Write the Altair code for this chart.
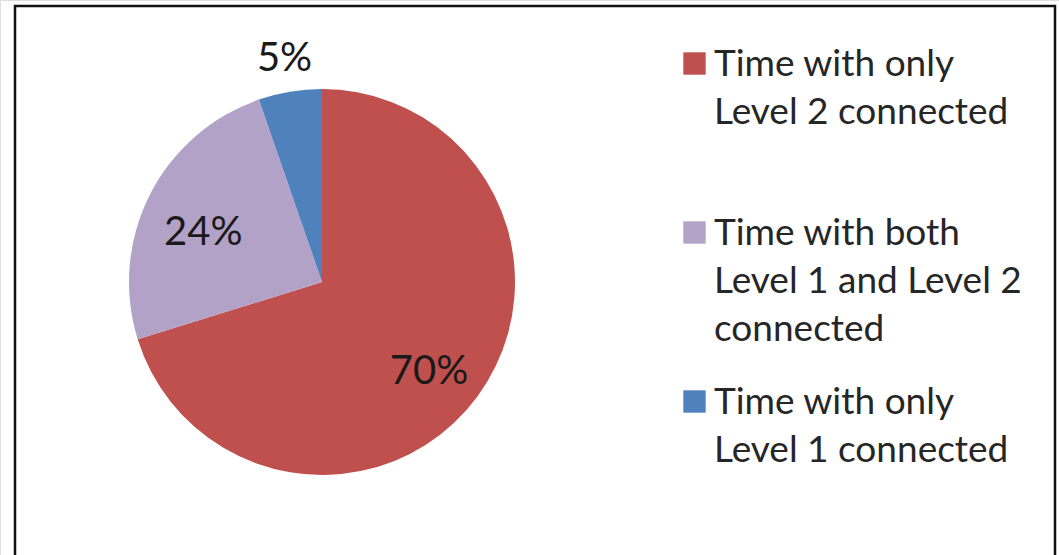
import altair as alt
import pandas as pd

categories = [
    "Time with only\nLevel 2 connected",
    "Time with both\nLevel 1 and Level 2\nconnected",
    "Time with only\nLevel 1 connected",
]
values = [70.2, 24.5, 5.3]
pct_labels = ["70%", "24%", "5%"]
order = [0, 1, 2]
colors = ["#C0504D", "#B3A2C7", "#4F81BD"]

df = pd.DataFrame({"cat": categories, "value": values, "label": pct_labels, "order": order})

CX, CY, R = 322, 282, 193
FONT = "Lato"

base = alt.Chart(df).encode(
    theta=alt.Theta("value:Q", stack=True),
    order=alt.Order("order:Q"),
    x=alt.value(CX),
    y=alt.value(CY),
)

pie = base.mark_arc(outerRadius=R, stroke=None).encode(
    color=alt.Color(
        "cat:N",
        scale=alt.Scale(domain=categories, range=colors),
        legend=alt.Legend(
            title=None,
            orient="none",
            legendX=676,
            legendY=45,
            symbolType="square",
            symbolSize=500,
            symbolStrokeWidth=0,
            labelFont=FONT,
            labelFontSize=37,
            labelColor="#262626",
            labelLimit=500,
            labelOffset=1,
            labelExpr="split(datum.label, '\\n')",
            rowPadding=35,
            gridAlign="all",
            labelBaseline="top",
        ),
    )
)

inner = base.transform_filter(alt.datum.value >= 10).mark_text(
    radius=133, font=FONT, fontSize=40, color="#1a1a1a", dy=11
).encode(text="label:N")

outer_txt = base.mark_text(
    radius=226, font=FONT, fontSize=40, color="#1a1a1a"
).encode(
    text=alt.condition(alt.datum.value < 10, "label:N", alt.value(""))
)

border = alt.Chart(alt.Data(values=[{}])).mark_rect(
    fill=None, stroke="#111111", strokeWidth=2.5
).encode(
    x=alt.value(15), x2=alt.value(1055), y=alt.value(6), y2=alt.value(600)
)

chart = alt.layer(border, pie, inner, outer_txt).properties(
    width=1059, height=555, autosize=alt.AutoSizeParams(type="none"), padding=0,
    background="white",
).configure_view(stroke=None).configure(
    style={"guide-label": {"lineHeight": 48, "dy": -17}}
)

chart.save("out.html", embed_options={"renderer": "svg", "actions": False})
